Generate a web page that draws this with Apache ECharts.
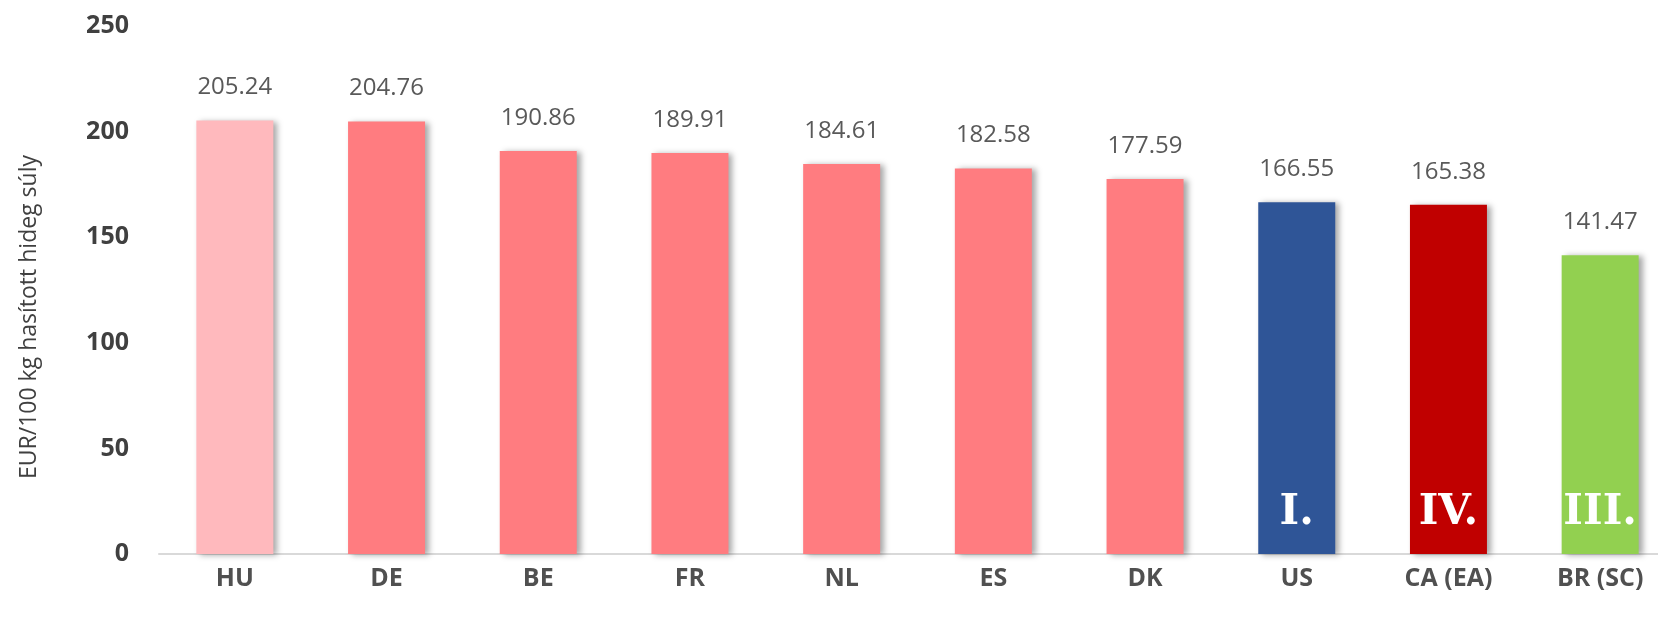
<!DOCTYPE html>
<html>
<head>
<meta charset="utf-8">
<script src="https://cdn.jsdelivr.net/npm/echarts@6/dist/echarts.min.js"></script>
<style>
html,body{margin:0;padding:0;background:#fff;}
#chart{width:1658px;height:618px;}
</style>
</head>
<body>
<div id="chart"></div>
<script>
var categories = ['HU', 'DE', 'BE', 'FR', 'NL', 'ES', 'DK', 'US', 'CA (EA)', 'BR (SC)'];
var values = [205.24, 204.76, 190.86, 189.91, 184.61, 182.58, 177.59, 166.55, 165.38, 141.47];
var barColors = ['#FFB9BD', '#FF7C80', '#FF7C80', '#FF7C80', '#FF7C80', '#FF7C80', '#FF7C80', '#2F5597', '#C00000', '#92D050'];
var rankLabels = ['', '', '', '', '', '', '', 'I.', 'IV.', 'III.'];
var yTicks = [0, 50, 100, 150, 200, 250];

var myChart = echarts.init(document.getElementById('chart'));
var option = {
	animation: false,
	grid: {
		left: 159,
		right: -18,
		top: 26,
		bottom: 64,
		outerBoundsMode: 'none'
	},
	xAxis: {
		type: 'category',
		data: categories,
		axisLine: {
			show: true,
			lineStyle: { color: '#D9D9D9', width: 2 }
		},
		axisTick: { show: false },
		axisLabel: {
			interval: 0,
			margin: 12,
			color: '#505050',
			fontFamily: 'Open Sans',
			fontWeight: 'bold',
			fontSize: 25
		}
	},
	yAxis: {
		type: 'value',
		min: yTicks[0],
		max: yTicks[yTicks.length - 1],
		interval: 50,
		name: 'EUR/100 kg hasított hideg súly',
		nameLocation: 'middle',
		nameGap: 118,
		nameTextStyle: {
			color: '#404040',
			fontFamily: 'Open Sans',
			fontSize: 23,
			padding: [0, 54, 0, 0]
		},
		splitLine: { show: false },
		axisLine: { show: false },
		axisTick: { show: false },
		axisLabel: {
			margin: 30,
			color: '#404040',
			fontFamily: 'Open Sans',
			fontWeight: 'bold',
			fontSize: 25
		}
	},
	series: [
		{
			type: 'bar',
			barWidth: 77,
			data: values.map(function (v, i) {
				return { value: v, itemStyle: { color: barColors[i] } };
			}),
			itemStyle: {
				shadowColor: 'rgba(0,0,0,0.35)',
				shadowBlur: 6,
				shadowOffsetX: 4,
				shadowOffsetY: 1
			},
			label: {
				show: true,
				position: 'top',
				distance: 21,
				color: '#595959',
				fontFamily: 'Open Sans',
				fontSize: 24,
				formatter: function (p) { return p.value.toFixed(2); }
			},
			z: 2
		},
		{
			// overlay used only to carry the rank text inside the bars
			type: 'bar',
			barWidth: 77,
			barGap: '-100%',
			data: values,
			itemStyle: { color: 'rgba(0,0,0,0)' },
			label: {
				show: true,
				position: 'insideBottom',
				distance: 20,
				color: '#fff',
				fontFamily: 'DejaVu Serif',
				fontWeight: 'bold',
				fontSize: 42,
				formatter: function (p) { return rankLabels[p.dataIndex]; }
			},
			silent: true,
			z: 3
		}
	]
};
myChart.setOption(option);
</script>
</body>
</html>
